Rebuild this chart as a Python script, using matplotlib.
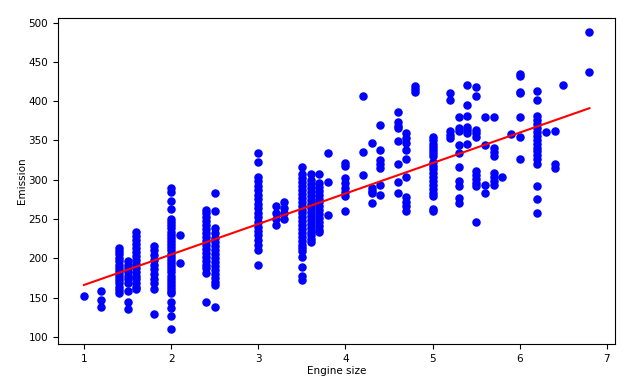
import matplotlib
matplotlib.use("Agg")
import matplotlib.pyplot as plt
import numpy as np

engine_sizes = [1.0, 1.2, 1.4, 1.5, 1.6, 1.8, 2.0, 2.1, 2.4, 2.5, 3.0, 3.2, 3.3,
                3.5, 3.6, 3.7, 3.8, 4.0, 4.2, 4.3, 4.4, 4.6, 4.7, 4.8, 5.0,
                5.2, 5.3, 5.4, 5.5, 5.6, 5.7, 5.8, 5.9, 6.0, 6.2, 6.3, 6.4,
                6.5, 6.8]
emissions = [
    [152],
    [158, 147, 138],
    [156, 160, 164, 168, 172, 176, 180, 184, 188, 192, 196, 200, 205, 209, 213],
    [196, 192, 187, 183, 178, 173, 168, 158, 144, 135],
    [233, 228, 223, 218, 213, 208, 203, 198, 193, 188, 183, 178, 173, 168, 164, 161],
    [216, 210, 204, 198, 192, 186, 180, 174, 168, 161, 129],
    [289, 284, 273, 263, 250, 246, 242, 238, 234, 230, 226, 222, 218, 214, 210,
     206, 202, 198, 194, 190, 186, 182, 178, 174, 170, 166, 162, 158, 156, 144,
     137, 127, 110],
    [230, 194],
    [262, 257, 252, 247, 242, 237, 232, 227, 222, 217, 212, 207, 202, 197, 192,
     187, 181, 144],
    [283, 260, 238, 232, 226, 221, 216, 211, 206, 200, 195, 190, 185, 180, 175,
     170, 166, 138],
    [334, 323, 304, 298, 292, 287, 281, 275, 269, 264, 258, 252, 246, 240, 235,
     229, 223, 217, 211, 191],
    [266, 258, 250, 242],
    [271, 264, 257, 250],
    [316, 307, 302, 297, 292, 287, 282, 277, 272, 267, 262, 257, 252, 247, 242,
     237, 232, 227, 222, 217, 213, 209, 202, 189, 177, 172],
    [307, 299, 294, 289, 284, 279, 274, 269, 264, 259, 254, 249, 244, 239, 234,
     229, 225, 221],
    [307, 296, 291, 286, 281, 276, 271, 266, 261, 256, 251, 246, 241, 236, 234],
    [334, 297, 255],
    [321, 317, 302, 296, 290, 284, 279, 260],
    [407, 335, 306],
    [347, 289, 286, 283, 270],
    [370, 338, 325, 320, 315, 293, 281],
    [386, 373, 369, 366, 349, 320, 297, 283],
    [359, 353, 347, 338, 326, 303, 278, 272, 266, 260],
    [419, 415, 412],
    [354, 350, 346, 342, 338, 334, 330, 323, 318, 313, 308, 303, 298, 293, 288,
     283, 279, 263, 260],
    [410, 401, 362, 357, 353],
    [380, 366, 362, 344, 334, 316, 298, 292, 277, 270],
    [421, 395, 381, 367, 363, 359, 345],
    [418, 407, 363, 359, 355, 311, 306, 301, 296, 292, 246],
    [380, 344, 293, 283],
    [380, 340, 335, 330, 308, 303, 298, 293],
    [303],
    [358],
    [435, 432, 412, 410, 380, 355, 326],
    [413, 401, 381, 376, 371, 366, 361, 356, 351, 346, 341, 336, 331, 326, 320,
     292, 275, 258],
    [361],
    [362, 320, 315],
    [421],
    [488, 437],
]

# Fitted regression line
coef = 38.8
intercept = 127.2
fit_x = [1.0, 6.8]

x = np.concatenate([[s] * len(e) for s, e in zip(engine_sizes, emissions)])
y = np.concatenate(emissions)

plt.rcParams['font.size'] = 7.5
fig = plt.figure(figsize=(6.43, 3.89), dpi=100)
ax = fig.add_axes([0.090, 0.116, 0.866, 0.838])

ax.scatter(x, y, color='blue', s=26)
fx = np.array(fit_x)
ax.plot(fx, coef * fx + intercept, '-r', linewidth=1.5)

ax.set_xlim(0.70, 7.09)
ax.set_ylim(91, 506)
ax.set_xlabel("Engine size", labelpad=2)
ax.set_ylabel("Emission", labelpad=1)

fig.savefig("out.png", dpi=100)
